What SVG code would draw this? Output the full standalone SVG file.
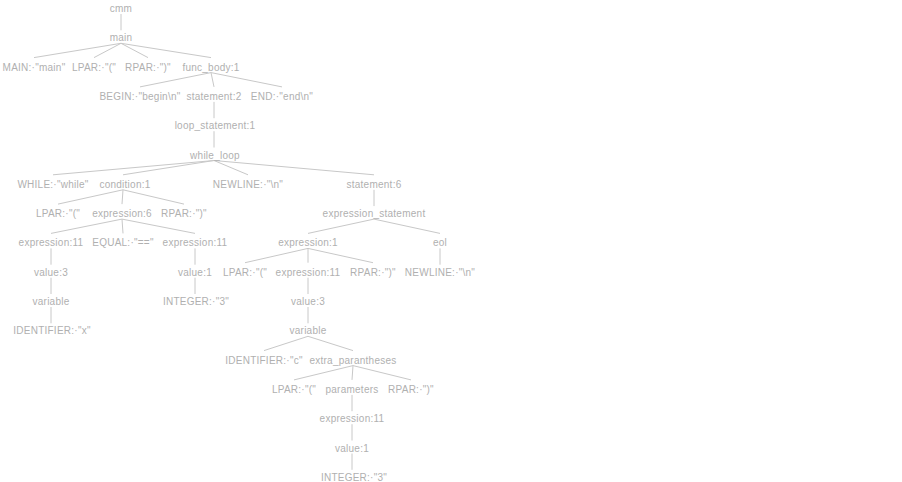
<svg xmlns="http://www.w3.org/2000/svg" width="902" height="482" viewBox="0 0 902 482">
<style>
text{font-family:"Liberation Sans",Arial,sans-serif;font-size:10px;fill:#b0b0b0;text-anchor:middle;letter-spacing:0.25px}
.e line{stroke:#c8c8c8;stroke-width:1;fill:none}
</style>
<rect width="902" height="482" fill="#ffffff"/>
<g class="e" id="edges">
<line x1="121" y1="14" x2="121" y2="30.3"/>
<line x1="121" y1="43.3" x2="34" y2="57.6"/>
<line x1="121" y1="43.3" x2="94" y2="57.6"/>
<line x1="121" y1="43.3" x2="148" y2="57.6"/>
<line x1="121" y1="43.3" x2="211" y2="57.6"/>
<line x1="211" y1="72.6" x2="140" y2="86.9"/>
<line x1="211" y1="72.6" x2="214" y2="86.9"/>
<line x1="211" y1="72.6" x2="282" y2="86.9"/>
<line x1="214" y1="101.9" x2="214" y2="118.2"/>
<line x1="214" y1="131.2" x2="214" y2="147.5"/>
<line x1="214" y1="160.5" x2="53" y2="174.8"/>
<line x1="214" y1="160.5" x2="123" y2="174.8"/>
<line x1="214" y1="160.5" x2="248" y2="174.8"/>
<line x1="214" y1="160.5" x2="374" y2="174.8"/>
<line x1="123" y1="189.8" x2="58" y2="204.1"/>
<line x1="123" y1="189.8" x2="122" y2="204.1"/>
<line x1="123" y1="189.8" x2="184" y2="204.1"/>
<line x1="122" y1="219.1" x2="51" y2="233.4"/>
<line x1="122" y1="219.1" x2="123" y2="233.4"/>
<line x1="122" y1="219.1" x2="195" y2="233.4"/>
<line x1="51" y1="248.4" x2="51" y2="264.7"/>
<line x1="51" y1="277.7" x2="51" y2="294"/>
<line x1="51" y1="307" x2="51" y2="323.3"/>
<line x1="195" y1="248.4" x2="195" y2="264.7"/>
<line x1="195" y1="277.7" x2="195" y2="294"/>
<line x1="374" y1="189.8" x2="374" y2="206.1"/>
<line x1="374" y1="219.1" x2="308" y2="233.4"/>
<line x1="374" y1="219.1" x2="440" y2="233.4"/>
<line x1="308" y1="248.4" x2="245" y2="262.7"/>
<line x1="308" y1="248.4" x2="308" y2="262.7"/>
<line x1="308" y1="248.4" x2="373" y2="262.7"/>
<line x1="440" y1="248.4" x2="440" y2="264.7"/>
<line x1="308" y1="277.7" x2="308" y2="294"/>
<line x1="308" y1="307" x2="308" y2="323.3"/>
<line x1="308" y1="336.3" x2="264" y2="350.6"/>
<line x1="308" y1="336.3" x2="353" y2="350.6"/>
<line x1="353" y1="365.6" x2="294" y2="379.9"/>
<line x1="353" y1="365.6" x2="352" y2="379.9"/>
<line x1="353" y1="365.6" x2="411" y2="379.9"/>
<line x1="352" y1="394.9" x2="352" y2="411.2"/>
<line x1="352" y1="424.2" x2="352" y2="440.5"/>
<line x1="352" y1="453.5" x2="352" y2="469.8"/>
</g>
<g id="n_cmm"><text x="121" y="12">cmm</text></g>
<g id="n_main"><text x="121" y="41.3">main</text></g>
<g id="n_MAIN"><text x="34" y="70.6">MAIN:·"main"</text></g>
<g id="n_LPAR1"><text x="94" y="70.6">LPAR:·"("</text></g>
<g id="n_RPAR1"><text x="148" y="70.6">RPAR:·")"</text></g>
<g id="n_func_body"><text x="211" y="70.6">func_body:1</text></g>
<g id="n_BEGIN"><text x="140" y="99.9">BEGIN:·"begin\n"</text></g>
<g id="n_statement2"><text x="214" y="99.9">statement:2</text></g>
<g id="n_END"><text x="282" y="99.9">END:·"end\n"</text></g>
<g id="n_loop"><text x="215" y="129.2">loop_statement:1</text></g>
<g id="n_while"><text x="215" y="158.5">while_loop</text></g>
<g id="n_WHILE"><text x="53" y="187.8">WHILE:·"while"</text></g>
<g id="n_condition"><text x="125" y="187.8">condition:1</text></g>
<g id="n_NEWLINE1"><text x="248" y="187.8">NEWLINE:·"\n"</text></g>
<g id="n_statement6"><text x="374" y="187.8">statement:6</text></g>
<g id="n_LPAR2"><text x="58" y="217.1">LPAR:·"("</text></g>
<g id="n_expr6"><text x="122" y="217.1">expression:6</text></g>
<g id="n_RPAR2"><text x="184" y="217.1">RPAR:·")"</text></g>
<g id="n_exprstmt"><text x="374" y="217.1">expression_statement</text></g>
<g id="n_expr11a"><text x="51" y="246.4">expression:11</text></g>
<g id="n_EQUAL"><text x="123" y="246.4">EQUAL:·"=="</text></g>
<g id="n_expr11b"><text x="195" y="246.4">expression:11</text></g>
<g id="n_expr1"><text x="308" y="246.4">expression:1</text></g>
<g id="n_eol"><text x="440" y="246.4">eol</text></g>
<g id="n_value3a"><text x="51" y="275.7">value:3</text></g>
<g id="n_value1a"><text x="195" y="275.7">value:1</text></g>
<g id="n_LPAR3"><text x="245" y="275.7">LPAR:·"("</text></g>
<g id="n_expr11c"><text x="308" y="275.7">expression:11</text></g>
<g id="n_RPAR3"><text x="373" y="275.7">RPAR:·")"</text></g>
<g id="n_NEWLINE2"><text x="440" y="275.7">NEWLINE:·"\n"</text></g>
<g id="n_variable_a"><text x="51" y="305">variable</text></g>
<g id="n_INTEGER_a"><text x="196" y="305">INTEGER:·"3"</text></g>
<g id="n_value3b"><text x="308" y="305">value:3</text></g>
<g id="n_IDENT_x"><text x="52" y="334.3">IDENTIFIER:·"x"</text></g>
<g id="n_variable_b"><text x="308" y="334.3">variable</text></g>
<g id="n_IDENT_c"><text x="264" y="363.6">IDENTIFIER:·"c"</text></g>
<g id="n_extra"><text x="353" y="363.6">extra_parantheses</text></g>
<g id="n_LPAR4"><text x="294" y="392.9">LPAR:·"("</text></g>
<g id="n_parameters"><text x="352" y="392.9">parameters</text></g>
<g id="n_RPAR4"><text x="411" y="392.9">RPAR:·")"</text></g>
<g id="n_expr11d"><text x="352" y="422.2">expression:11</text></g>
<g id="n_value1b"><text x="352" y="451.5">value:1</text></g>
<g id="n_INTEGER_b"><text x="354" y="480.8">INTEGER:·"3"</text></g>
</svg>
